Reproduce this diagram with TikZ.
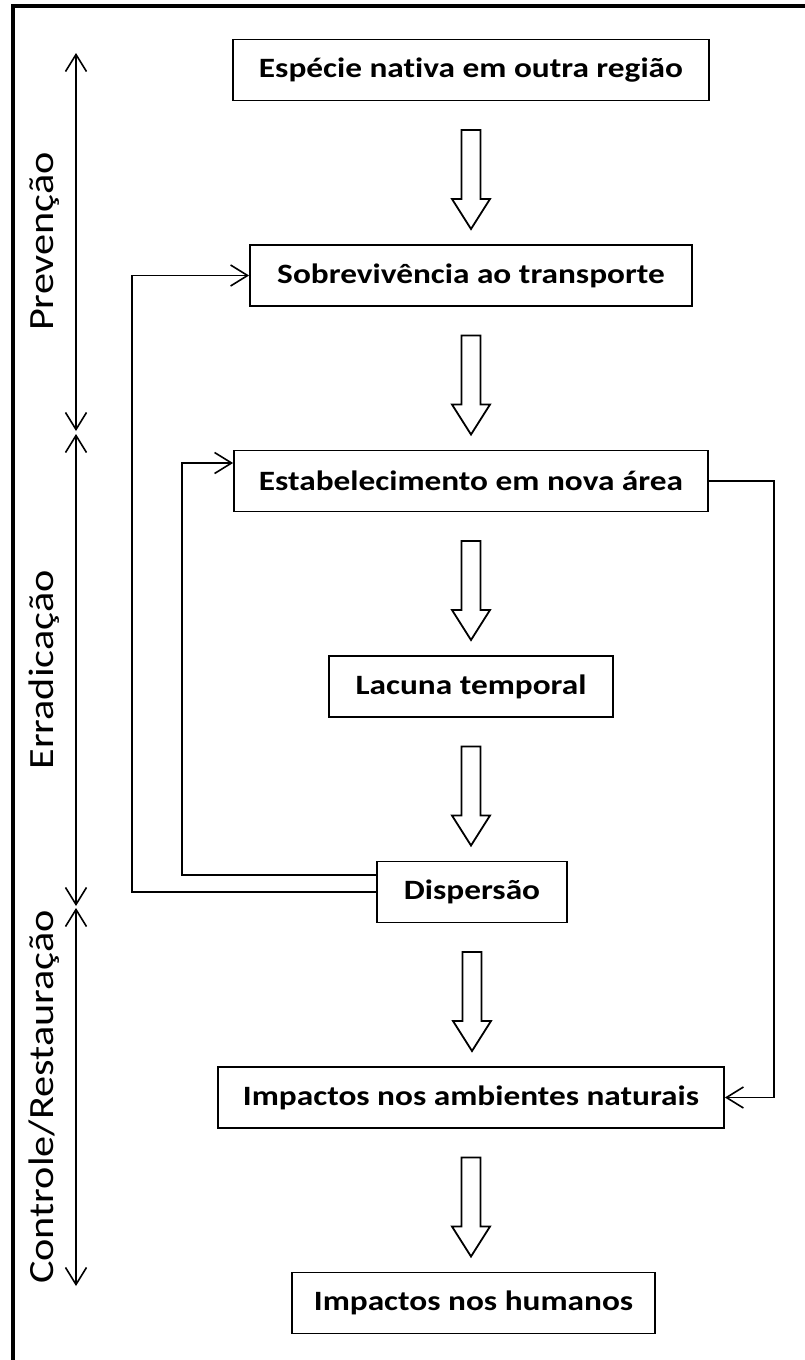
\documentclass[tikz,border=0pt]{standalone}
\usepackage{fontspec}
\setmainfont{Carlito}[FakeStretch=1.19, Ligatures=NoCommon]
\usetikzlibrary{calc,arrows.meta}
\def\hollowarrow(#1){\draw[line width=1.8pt, line join=miter] ($(#1)+(-9.5,-60)$) -- ++(19,0) -- ++(0,-69) -- ++(9.5,0) -- ++(-19,-30) -- ++(-19,30) -- ++(9.5,0) -- cycle;}

\begin{document}
\begin{tikzpicture}[x=1pt, y=1pt,
	box/.style={draw, line width=1.8pt, minimum height=61pt, inner sep=0pt, font=\fontsize{28}{32}\selectfont\bfseries},
	phase/.style={rotate=90, anchor=base, font=\fontsize{35.5}{40}\selectfont},
	thinarrow/.style={line width=1.6pt, -{Straight Barb[length=17pt,width=21pt]}},
	sidearrow/.style={line width=1.6pt, {Straight Barb[length=17pt,width=21pt]}-{Straight Barb[length=17pt,width=21pt]}}]
	%%%%% START %%%%%
	\useasboundingbox (0,0) rectangle (804,-1360);
	\draw[line width=4pt] (13,-1364) -- (13,-6) -- (808,-6);
	
	\node[box, minimum width=476pt] (nativa) at (471,-70) {Espécie nativa em outra região};
	\node[box, minimum width=442pt] (sobre) at (471,-275.5) {Sobrevivência ao transporte};
	\node[box, minimum width=474pt] (estab) at (471,-481) {Estabelecimento em nova área};
	\node[box, minimum width=284pt] (lacuna) at (471,-686.5) {Lacuna temporal};
	\node[box, minimum width=190pt] (disp) at (472,-892) {Dispersão};
	\node[box, minimum width=506pt] (ambnat) at (471,-1097.5) {Impactos nos ambientes naturais};
	\node[box, minimum width=363pt] (humanos) at (473.5,-1303) {Impactos nos humanos};
	
	\hollowarrow(nativa)
	\hollowarrow(sobre)
	\hollowarrow(estab)
	\hollowarrow(lacuna)
	\hollowarrow(disp)
	\hollowarrow(ambnat)
	
	\draw[thinarrow] (disp.west) -- ++(-244,0) |- (sobre.west);
	\draw[thinarrow] ([yshift=17pt]disp.west) -- ++(-194,0) |- ([yshift=18pt]estab.west);
	\draw[thinarrow] (estab.east) -- ++(65,0) |- (ambnat.east);
	
	\coordinate (p0) at (76,-53);
	\coordinate (p1) at (76,-431);
	\coordinate (e0) at (76,-434);
	\coordinate (e1) at (76,-906);
	\coordinate (c0) at (76,-908);
	\coordinate (c1) at (76,-1286);
	\draw[sidearrow] (p0) -- (p1);
	\draw[sidearrow] (e0) -- (e1);
	\draw[sidearrow] (c0) -- (c1);
	\node[phase] (prev) at (53,-241.5) {Prevenção};
	\node[phase] (errad) at (53,-670) {Erradicação};
	\node[phase] (contr) at (53,-1097) {Controle/Restauração};
	%%%%% END %%%%%
\end{tikzpicture}
\end{document}
